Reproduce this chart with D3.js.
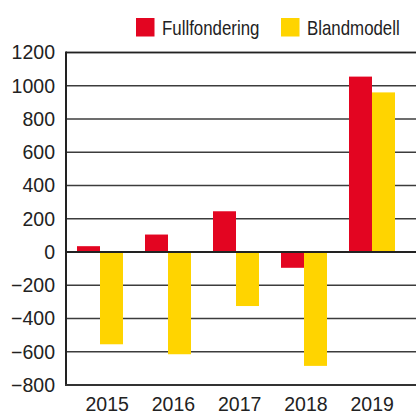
<!DOCTYPE html>
<html>
<head>
<meta charset="utf-8">
<script src="https://cdn.jsdelivr.net/npm/d3@7"></script>
<style>
  html, body { margin: 0; padding: 0; background: #fff; }
  svg { display: block; }
</style>
</head>
<body>
<svg id="chart" width="416" height="414"></svg>
<script>
const years = ["2015", "2016", "2017", "2018", "2019"];
const seriesNames = ["Fullfondering", "Blandmodell"];
const fullfondering = [35, 105, 245, -95, 1055];
const blandmodell = [-555, -615, -325, -685, 960];
const yTicks = [-800, -600, -400, -200, 0, 200, 400, 600, 800, 1000, 1200];
const colors = ["#E30521", "#FFD400"];

(function () {
const svg = d3.select("#chart");
const pL = 66, pR = 406, pT = 52.5, pB = 385;

const y = d3.scaleLinear().domain([-800, 1200]).range([pB, pT]);
const x = d3.scaleBand().domain(years).range([pL, pR]).paddingInner(0.3235).paddingOuter(0.16175);
const xs = d3.scaleBand().domain(seriesNames).range([0, x.bandwidth()]);
const xl = d3.scalePoint().domain(years).range([106.7, 371.7]);

// gridlines
svg.append("g").selectAll("line").data(yTicks.filter(d => d !== 0 && d !== -800))
  .join("line")
  .attr("x1", pL).attr("x2", 416)
  .attr("y1", d => y(d)).attr("y2", d => y(d))
  .attr("stroke", "#3c3c3c").attr("stroke-width", 1.3);

// bars
const data = years.map((yr, i) => ({ yr, vals: [fullfondering[i], blandmodell[i]] }));
const groups = svg.append("g").selectAll("g").data(data).join("g")
  .attr("transform", d => `translate(${x(d.yr)},0)`);
groups.selectAll("rect")
  .data(d => d.vals.map((v, j) => ({ v, s: seriesNames[j], j })))
  .join("rect")
  .attr("x", d => xs(d.s))
  .attr("width", xs.bandwidth())
  .attr("y", d => y(Math.max(0, d.v)))
  .attr("height", d => Math.abs(y(d.v) - y(0)))
  .attr("fill", d => colors[d.j]);

// zero line
svg.append("line").attr("x1", pL).attr("x2", 416)
  .attr("y1", y(0)).attr("y2", y(0))
  .attr("stroke", "#222").attr("stroke-width", 2);

// y axis
const yAxis = d3.axisLeft(y).tickValues(yTicks).tickSize(0).tickPadding(11)
  .tickFormat(d => d < 0 ? "\u2212" + Math.abs(d) : String(d));
const ga = svg.append("g").attr("transform", `translate(${pL},0)`).call(yAxis);
ga.select(".domain").remove();
ga.selectAll("text").attr("font-family", "'Liberation Sans', Arial, sans-serif")
  .attr("font-size", "19.5px").attr("fill", "#222");

// box lines
svg.append("line").attr("x1", pL).attr("x2", pL).attr("y1", pT - 1).attr("y2", pB + 1)
  .attr("stroke", "#222").attr("stroke-width", 2);
svg.append("line").attr("x1", pL).attr("x2", 416).attr("y1", pT).attr("y2", pT)
  .attr("stroke", "#222").attr("stroke-width", 1.6);
svg.append("line").attr("x1", pL - 1).attr("x2", 416).attr("y1", pB).attr("y2", pB)
  .attr("stroke", "#333").attr("stroke-width", 2);

// x labels
const xAxis = d3.axisBottom(xl).tickSize(0).tickPadding(0);
const gx = svg.append("g").attr("transform", `translate(0,${pB})`).call(xAxis);
gx.select(".domain").remove();
gx.selectAll("text").attr("font-family", "'Liberation Sans', Arial, sans-serif")
  .attr("font-size", "19.5px").attr("fill", "#222").attr("dy", null).attr("y", 25.5);

// legend
const legendX = [136, 281];
const lg = svg.append("g").selectAll("g").data(seriesNames).join("g")
  .attr("transform", (d, i) => `translate(${legendX[i]},18)`);
lg.append("rect").attr("width", 18.5).attr("height", 18.5).attr("fill", (d, i) => colors[i]);
lg.append("g").attr("transform", "translate(26,17) scale(0.843,1)")
  .append("text")
  .attr("font-family", "'Liberation Sans', Arial, sans-serif")
  .attr("font-size", "20px").attr("fill", "#222").text(d => d);
})();
</script>
</body>
</html>
